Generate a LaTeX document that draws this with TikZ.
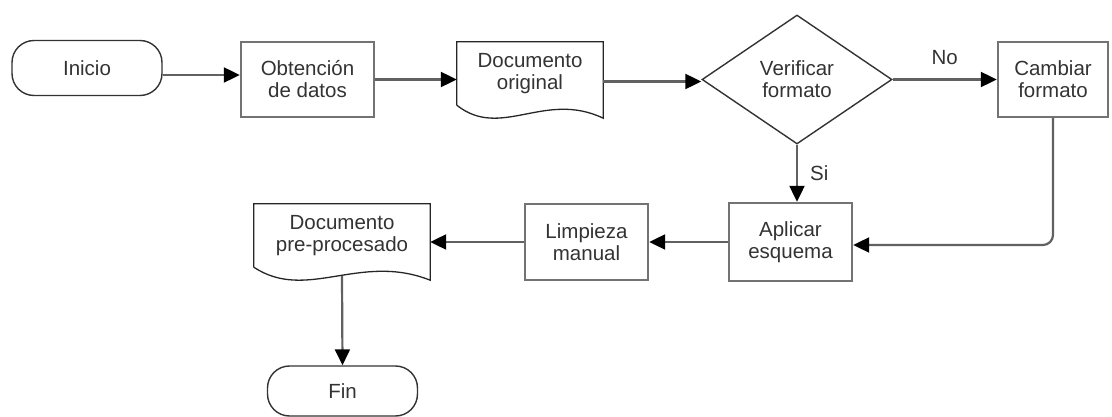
\documentclass[tikz,border=0pt]{standalone}
\usepackage{fontspec}
\setmainfont{Liberation Sans}
\usetikzlibrary{arrows.meta,shapes.geometric,calc}
\newcommand\docshape[1]{%
  \draw[docline] ($(#1.south west)+(0,0)$) -- (#1.north west) -- (#1.north east) -- ($(#1.south east)+(0,13)$)
    .. controls ($(#1.south west)!0.6!(#1.south east)+(0,-15)$) and ($(#1.south west)!0.3!(#1.south east)+(0,35)$) .. (#1.south west);}
\begin{document}
\begin{tikzpicture}[x=1pt,y=-1pt,
  txt/.style={font=\fontsize{20.5}{22}\selectfont, text=black!80, align=center, inner sep=0pt},
  term/.style={txt, draw=black!80, line width=1.4pt, rounded corners=22pt},
  proc/.style={txt, draw=black!55, line width=2.4pt},
  dec/.style={txt, diamond, aspect=1.47, draw=black!80, line width=1.4pt},
  docnode/.style={txt},
  docline/.style={draw=black!85, line width=1.3pt},
  arr/.style={draw=black!62, line width=2.2pt, -{Triangle[length=16pt,width=15pt,color=black]}},
  lbl/.style={font=\fontsize{20.5}{22}\selectfont, text=black!80, inner sep=0pt}
]
\useasboundingbox (0,0) rectangle (1112,417);

\node[term, minimum width=150pt, minimum height=55pt] (ini) at (87,68) {Inicio};
\node[proc, minimum width=133pt, minimum height=75pt] (obt) at (307.5,79.5) {Obtención\\de datos};
\node[docnode, minimum width=146pt, minimum height=63pt] (doc1) at (530,73.5) {Documento\\original};
\docshape{doc1}
\node[dec, minimum width=190pt, minimum height=129pt] (dia) at (797,79.5) {Verificar\\formato};
\node[proc, minimum width=110pt, minimum height=75pt] (cam) at (1053,79.5) {Cambiar\\formato};
\node[proc, minimum width=123pt, minimum height=78pt] (apl) at (790.5,242) {Aplicar\\esquema};
\node[proc, minimum width=123pt, minimum height=76pt] (lim) at (586.5,242) {Limpieza\\manual};
\node[docnode, minimum width=176pt, minimum height=63pt] (doc2) at (342,235.5) {Documento\\pre-procesado};
\docshape{doc2}
\node[term, minimum width=150pt, minimum height=50pt] (fin) at (342.5,391) {Fin};

\draw[arr] ([yshift=-7pt]ini.east) -- ([yshift=-7pt]ini.east -| obt.west);
\draw[arr] (obt.east) -- (obt.east -| doc1.west);
\draw[arr] ([yshift=-8pt]doc1.east) -- ([yshift=-8pt]doc1.east -| dia.west);
\draw[arr] (dia.east) -- (cam.west) node[lbl, midway, above=14pt] (no) {No};
\draw[arr] (dia.south) -- (dia.south |- apl.north) node[lbl, midway, right=12pt] (si) {Si};
\draw[arr, rounded corners=10pt] (cam.south) |- ([yshift=-3pt]apl.east);
\draw[arr] (apl.west) -- (lim.east);
\draw[arr] (lim.west) -- (lim.west -| doc2.east);
\draw[arr] ([yshift=-9pt]doc2.south) -- (fin.north);
\end{tikzpicture}
\end{document}
